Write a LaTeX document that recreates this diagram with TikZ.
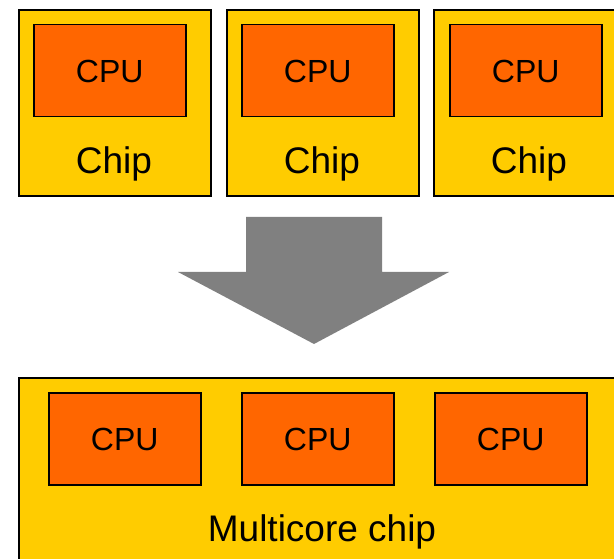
\documentclass[tikz,border=0pt]{standalone}
\usepackage{fontspec}
\setmainfont{Liberation Sans}
\definecolor{chipyellow}{HTML}{FFCC00}
\definecolor{cpuorange}{HTML}{FF6600}
\definecolor{arrowgray}{HTML}{808080}
\tikzset{
  chipbox/.style={draw=black, line width=2pt, fill=chipyellow, rectangle, anchor=north west, inner sep=0pt},
  cpubox/.style={draw=black, line width=1.5pt, fill=cpuorange, rectangle, anchor=north west, inner sep=0pt, minimum width=152pt, minimum height=92pt},
  cputext/.style={font=\fontsize{32}{36}\selectfont, inner sep=0pt},
  chiptext/.style={font=\fontsize{37}{42}\selectfont, inner sep=0pt},
}
\begin{document}
\begin{tikzpicture}[x=1pt, y=-1pt]
\useasboundingbox (0,0) rectangle (614,559);
\clip (0,0) rectangle (614,559);
% top chips
\node[chipbox, minimum width=192pt, minimum height=186pt] (chipA) at (18,9) {};
\node[chipbox, minimum width=192pt, minimum height=186pt] (chipB) at (226,9) {};
\node[chipbox, minimum width=200pt, minimum height=186pt] (chipC) at (433,9) {};
\node[cpubox] (cpuA) at (33,24) {};
\node[cpubox] (cpuB) at (241,24) {};
\node[cpubox] (cpuC) at (449,24) {};
\node[cputext] (cpuAt) at ([yshift=-1pt]cpuA.center) {CPU};
\node[cputext] (cpuBt) at ([yshift=-1pt]cpuB.center) {CPU};
\node[cputext] (cpuCt) at ([yshift=-1pt]cpuC.center) {CPU};
\node[chiptext] (chipAt) at (114,164) {Chip};
\node[chiptext] (chipBt) at (322,164) {Chip};
\node[chiptext] (chipCt) at (529,164) {Chip};
% arrow
\fill[arrowgray] (246,217) -- (382,217) -- (382,272) -- (449,272) -- (314,344) -- (178,272) -- (246,272) -- cycle;
% multicore chip
\node[chipbox, minimum width=620pt, minimum height=200pt] (multi) at (18,377) {};
\node[cpubox] (mcpuA) at (48,392) {};
\node[cpubox] (mcpuB) at (241,392) {};
\node[cpubox] (mcpuC) at (434,392) {};
\node[cputext] (mcpuAt) at ([yshift=-1pt]mcpuA.center) {CPU};
\node[cputext] (mcpuBt) at ([yshift=-1pt]mcpuB.center) {CPU};
\node[cputext] (mcpuCt) at ([yshift=-1pt]mcpuC.center) {CPU};
\node[chiptext] (multit) at (322,532) {Multicore chip};
\end{tikzpicture}
\end{document}
